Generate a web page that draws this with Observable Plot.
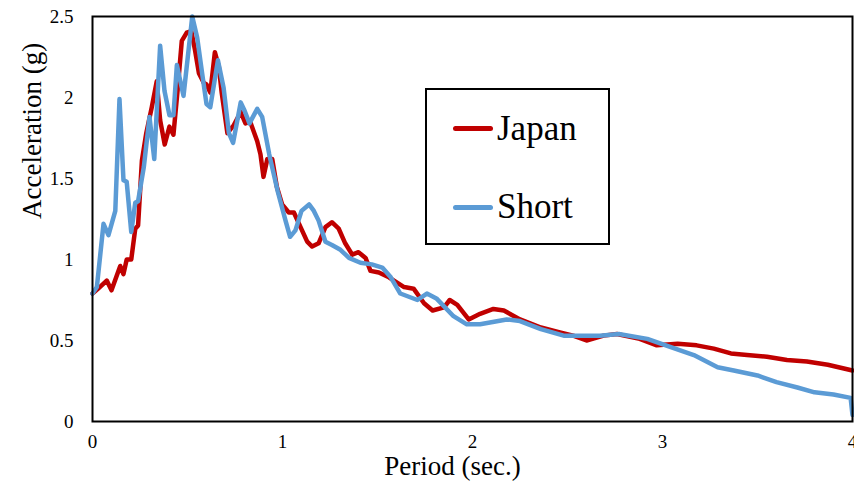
<!DOCTYPE html>
<html><head><meta charset="utf-8">
<script src="https://cdn.jsdelivr.net/npm/d3@7"></script>
<script src="https://cdn.jsdelivr.net/npm/@observablehq/plot@0.6"></script>
<style>
body{margin:0;background:#fff}
#wrap{position:relative;width:854px;height:489px;font-family:"Liberation Serif",Tinos,"Times New Roman",Times,"DejaVu Serif",serif}
#legend{position:absolute;left:425px;top:88px;width:181px;height:153px;border:2px solid #000;background:#fff}
.lline{position:absolute;left:26px;width:40px;height:5px;border-radius:2.5px}
.ltext{position:absolute;left:70px;font-size:35px;line-height:35px;color:#000;white-space:nowrap}
</style></head><body><div id="wrap"></div>
<script>
const seriesNames = ["Japan", "Short"];
const seriesColors = ["#C00000", "#5B9BD5"];
const xTicks = [0, 1, 2, 3, 4];
const yTicks = [0, 0.5, 1, 1.5, 2, 2.5];

const japanX = [0,0.03,0.075,0.10,0.146,0.163,0.18,0.204,0.225,0.24,0.26,0.283,0.312,0.338,0.356,0.38,0.405,0.426,0.449,0.47,0.496,0.52,0.54,0.56,0.586,0.60,0.62,0.644,0.665,0.68,0.71,0.744,0.78,0.805,0.83,0.867,0.884,0.90,0.92,0.946,0.97,0.998,1.033,1.06,1.095,1.13,1.156,1.19,1.226,1.26,1.296,1.33,1.367,1.40,1.437,1.463,1.507,1.56,1.64,1.69,1.745,1.79,1.85,1.88,1.92,1.98,2.04,2.11,2.165,2.25,2.36,2.46,2.53,2.60,2.69,2.76,2.88,2.97,3.08,3.18,3.27,3.36,3.445,3.55,3.655,3.76,3.87,4.0];
const japanY = [0.79,0.82,0.87,0.81,0.96,0.91,1.00,1.00,1.19,1.21,1.61,1.78,1.94,2.10,1.86,1.71,1.82,1.77,2.06,2.35,2.40,2.41,2.29,2.15,2.09,2.08,2.03,2.28,2.19,2.03,1.78,1.83,1.91,1.84,1.85,1.73,1.65,1.51,1.62,1.62,1.45,1.34,1.29,1.29,1.20,1.11,1.08,1.10,1.20,1.23,1.19,1.10,1.03,1.045,1.01,0.93,0.92,0.89,0.83,0.82,0.73,0.685,0.705,0.75,0.72,0.63,0.665,0.695,0.685,0.63,0.58,0.55,0.53,0.50,0.53,0.54,0.51,0.47,0.48,0.47,0.45,0.42,0.41,0.40,0.38,0.37,0.35,0.315];

const shortX = [0,0.023,0.058,0.084,0.12,0.142,0.163,0.18,0.204,0.225,0.24,0.27,0.30,0.325,0.356,0.379,0.405,0.426,0.444,0.479,0.525,0.551,0.577,0.60,0.62,0.66,0.69,0.718,0.74,0.78,0.80,0.826,0.867,0.893,0.93,0.975,1.016,1.04,1.068,1.10,1.14,1.165,1.19,1.226,1.26,1.305,1.35,1.41,1.47,1.525,1.57,1.62,1.71,1.76,1.81,1.90,1.97,2.04,2.18,2.25,2.36,2.48,2.67,2.77,2.92,3.04,3.165,3.29,3.375,3.50,3.60,3.71,3.80,3.90,3.99,4.0];
const shortY = [0.79,0.83,1.22,1.15,1.30,1.99,1.49,1.48,1.17,1.35,1.36,1.57,1.88,1.62,2.32,2.04,1.89,1.89,2.20,2.01,2.50,2.37,2.15,1.96,1.94,2.23,2.06,1.78,1.72,1.97,1.92,1.84,1.93,1.88,1.65,1.42,1.24,1.14,1.18,1.30,1.34,1.30,1.24,1.11,1.09,1.06,1.01,0.98,0.97,0.95,0.89,0.79,0.75,0.79,0.76,0.65,0.60,0.60,0.63,0.62,0.57,0.53,0.53,0.54,0.51,0.46,0.41,0.335,0.315,0.284,0.243,0.21,0.18,0.167,0.146,0.04];

function rows(name, xs, ys){
  const n = Math.min(xs.length, ys.length);
  const out = [];
  for (let i = 0; i < n; i++) out.push({series: name, period: xs[i], acc: ys[i]});
  return out;
}
const data = [...rows("Japan", japanX, japanY), ...rows("Short", shortX, shortY)];

const serif = '"Liberation Serif",Tinos,"Times New Roman",Times,"DejaVu Serif",serif';
const chart = Plot.plot({
  width: 854, height: 489,
  marginLeft: 92, marginRight: 2, marginTop: 16, marginBottom: 68,
  style: {fontFamily: serif, fontSize: "19px", color: "#000", background: "#fff"},
  x: {domain: [0, 4], ticks: xTicks, tickFormat: d => String(d), tickSize: 0, tickPadding: 13, label: null},
  y: {domain: [0, 2.5], ticks: yTicks, tickFormat: d => String(d), tickSize: 0, tickPadding: 19, label: null},
  color: {domain: seriesNames, range: seriesColors},
  marks: [
    Plot.line(data, {x: "period", y: "acc", z: "series", stroke: "series", strokeWidth: 4.5, strokeLinejoin: "round", strokeLinecap: "round"}),
    Plot.frame({stroke: "#000", strokeWidth: 2}),
    Plot.text(["Acceleration (g)"], {frameAnchor: "left", dx: -60, rotate: -90, fontSize: 27, fill: "#000", fontFamily: serif}),
    Plot.text(["Period (sec.)"], {frameAnchor: "bottom", dx: -20, dy: 53, fontSize: 27, fill: "#000", fontFamily: serif})
  ]
});
const wrap = document.getElementById("wrap");
wrap.appendChild(chart);

const legend = document.createElement("div");
legend.id = "legend";
const tops = [{line: 35.5, text: 21}, {line: 114.5, text: 99}];
seriesNames.forEach((name, i) => {
  const l = document.createElement("div");
  l.className = "lline";
  l.style.top = tops[i].line + "px";
  l.style.background = seriesColors[i];
  legend.appendChild(l);
  const t = document.createElement("div");
  t.className = "ltext";
  t.style.top = tops[i].text + "px";
  t.textContent = name;
  legend.appendChild(t);
});
wrap.appendChild(legend);
</script></body></html>
